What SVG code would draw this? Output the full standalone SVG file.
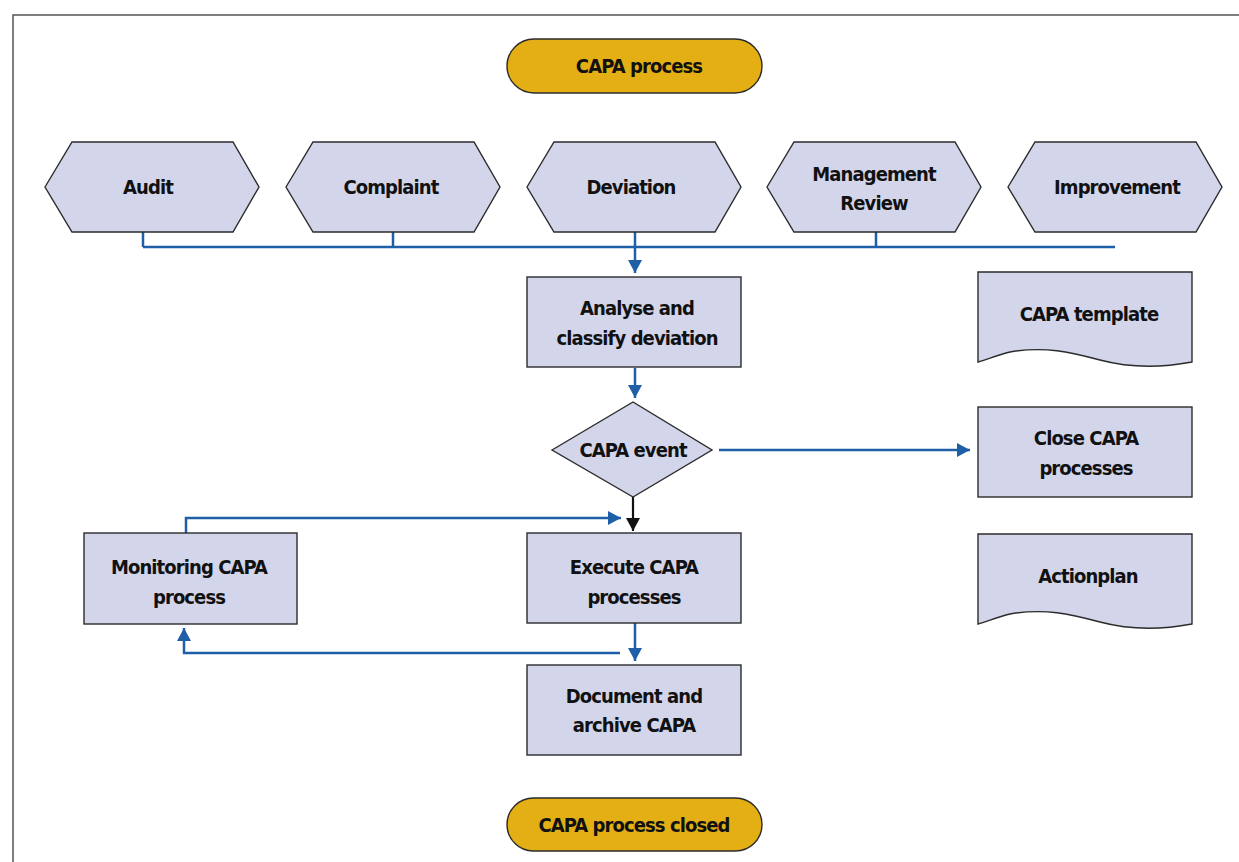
<svg xmlns="http://www.w3.org/2000/svg" width="1239" height="862" viewBox="0 0 1239 862">
<style>
.node{fill:#D3D5EA;stroke:#2b2b2b;stroke-width:1.4}
.pill{fill:#E4AF14;stroke:#2b2b2b;stroke-width:1.4}
.t{font-family:"Liberation Sans Narrow","DejaVu Sans Condensed","Liberation Sans",sans-serif;font-weight:bold;font-size:20px;letter-spacing:-0.9px;fill:#111;text-anchor:middle;dominant-baseline:central}
.c{fill:none;stroke:#1F5FA8;stroke-width:2.5}
.k{fill:none;stroke:#111;stroke-width:2.2}
</style>
<defs>
<marker id="ab" markerUnits="userSpaceOnUse" markerWidth="14" markerHeight="14" refX="13" refY="7" orient="auto"><path d="M0,0 L13,7 L0,14 z" fill="#1F5FA8"/></marker>
<marker id="ak" markerUnits="userSpaceOnUse" markerWidth="14" markerHeight="14" refX="13" refY="7" orient="auto"><path d="M0,0 L13,7 L0,14 z" fill="#111"/></marker>
</defs>
<rect x="13" y="15" width="1240" height="860" fill="none" stroke="#555" stroke-width="1.5"/>

<g id="connectors">
<path class="c" d="M143,232 V247 M393,232 V247 M876,232 V247 M143,247 H1115"/>
<path class="c" d="M635,232 V273" marker-end="url(#ab)"/>
<path class="c" d="M635,368 V398" marker-end="url(#ab)"/>
<path class="c" d="M719,450 H970" marker-end="url(#ab)"/>
<path class="k" d="M633,497 V531" marker-end="url(#ak)"/>
<path class="c" d="M186,533 V518 H621" marker-end="url(#ab)"/>
<path class="c" d="M635,623 V661" marker-end="url(#ab)"/>
<path class="c" d="M620,653 H184 V628" marker-end="url(#ab)"/>
</g>

<g id="start"><rect class="pill" x="507" y="39" width="255" height="54" rx="27"/><text class="t" x="639" y="66">CAPA process</text></g>

<g id="audit"><polygon class="node" points="45,187 72,142 233,142 259,187 233,232 72,232"/><text class="t" x="148" y="187">Audit</text></g>
<g id="complaint"><polygon class="node" points="286,187 313,142 474,142 500,187 474,232 313,232"/><text class="t" x="391" y="187">Complaint</text></g>
<g id="deviation"><polygon class="node" points="527,187 554,142 715,142 741,187 715,232 554,232"/><text class="t" x="631" y="187">Deviation</text></g>
<g id="management"><polygon class="node" points="767,187 794,142 955,142 981,187 955,232 794,232"/><text class="t" x="874" y="174">Management</text><text class="t" x="874" y="203">Review</text></g>
<g id="improvement"><polygon class="node" points="1008,187 1035,142 1196,142 1222,187 1196,232 1035,232"/><text class="t" x="1117" y="187">Improvement</text></g>

<g id="analyse"><rect class="node" x="527" y="277" width="214" height="90"/><text class="t" x="637" y="308">Analyse and</text><text class="t" x="637" y="338">classify deviation</text></g>

<g id="template"><path class="node" d="M978,272 H1192 V362 C1160,368 1130,368 1100,360 C1070,352 1045,346 1010,352 C998,355 988,359 978,362 Z"/><text class="t" x="1089" y="314">CAPA template</text></g>

<g id="event"><polygon class="node" points="552,450 633,402 712,450 633,497"/><text class="t" x="633" y="450">CAPA event</text></g>

<g id="close"><rect class="node" x="978" y="407" width="214" height="90"/><text class="t" x="1086" y="438">Close CAPA</text><text class="t" x="1086" y="468">processes</text></g>

<g id="monitoring"><rect class="node" x="84" y="533" width="213" height="91"/><text class="t" x="189" y="567">Monitoring CAPA</text><text class="t" x="189" y="597">process</text></g>

<g id="execute"><rect class="node" x="527" y="533" width="214" height="90"/><text class="t" x="634" y="567">Execute CAPA</text><text class="t" x="634" y="597">processes</text></g>

<g id="actionplan"><path class="node" d="M978,534 H1192 V624 C1160,630 1130,630 1100,622 C1070,614 1045,608 1010,614 C998,617 988,621 978,624 Z"/><text class="t" x="1088" y="576">Actionplan</text></g>

<g id="document"><rect class="node" x="527" y="665" width="214" height="90"/><text class="t" x="634" y="696">Document and</text><text class="t" x="634" y="725">archive CAPA</text></g>

<g id="end"><rect class="pill" x="507" y="798" width="255" height="53" rx="26.5"/><text class="t" x="634" y="825">CAPA process closed</text></g>
</svg>
